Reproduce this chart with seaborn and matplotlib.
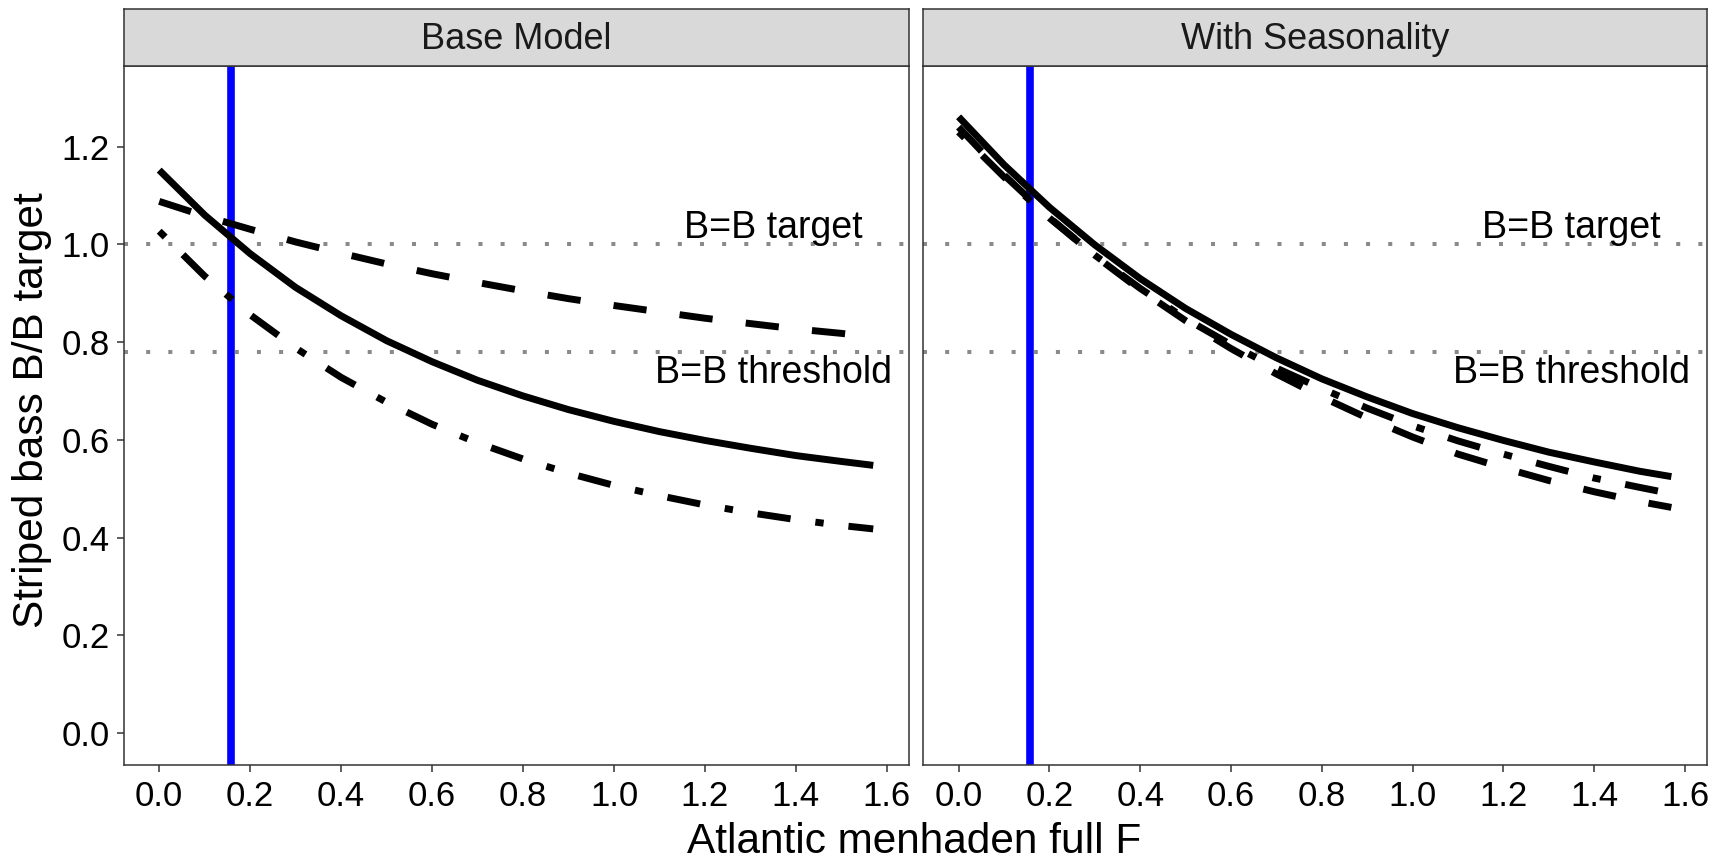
import numpy as np
import pandas as pd
import matplotlib
matplotlib.use("Agg")
import matplotlib.pyplot as plt
import seaborn as sns


# DATA
F_VALUES = [0.0, 0.1, 0.2, 0.3, 0.4, 0.5, 0.6, 0.7, 0.8,
            0.9, 1.0, 1.1, 1.2, 1.3, 1.4, 1.5, 1.57]

PANELS = ["Base Model", "With Seasonality"]
SCENARIOS = ["Scenario 1", "Scenario 2", "Scenario 3"]

BASE_S1 = [1.152, 1.060, 0.981, 0.912, 0.854, 0.803, 0.760, 0.722, 0.690,
           0.662, 0.638, 0.617, 0.599, 0.583, 0.568, 0.556, 0.548]
BASE_S2 = [1.088, 1.058, 1.031, 1.005, 0.982, 0.960, 0.940, 0.922, 0.905,
           0.889, 0.875, 0.862, 0.849, 0.838, 0.827, 0.818, 0.811]
BASE_S3 = [1.027, 0.935, 0.856, 0.788, 0.728, 0.677, 0.632, 0.594, 0.561,
           0.532, 0.507, 0.486, 0.467, 0.451, 0.437, 0.425, 0.418]

SEAS_S1 = [1.261, 1.163, 1.076, 0.999, 0.930, 0.869, 0.816, 0.768, 0.725,
           0.688, 0.654, 0.625, 0.599, 0.575, 0.555, 0.536, 0.525]
SEAS_S2 = [1.240, 1.142, 1.055, 0.977, 0.907, 0.844, 0.787, 0.735, 0.688,
           0.645, 0.606, 0.571, 0.543, 0.517, 0.494, 0.474, 0.462]
SEAS_S3 = [1.230, 1.138, 1.054, 0.978, 0.910, 0.848, 0.795, 0.747, 0.705,
           0.665, 0.629, 0.598, 0.571, 0.546, 0.522, 0.503, 0.490]

F_CURRENT = 0.158
B_TARGET = 1.0
B_THRESHOLD = 0.78

X_TICKS = [0.0, 0.2, 0.4, 0.6, 0.8, 1.0, 1.2, 1.4, 1.6]
Y_TICKS = [0.0, 0.2, 0.4, 0.6, 0.8, 1.0, 1.2]


# LONG TABLE
series = {
    ("Base Model", "Scenario 1"): BASE_S1,
    ("Base Model", "Scenario 2"): BASE_S2,
    ("Base Model", "Scenario 3"): BASE_S3,
    ("With Seasonality", "Scenario 1"): SEAS_S1,
    ("With Seasonality", "Scenario 2"): SEAS_S2,
    ("With Seasonality", "Scenario 3"): SEAS_S3,
}
rows = []
for (panel, scen), vals in series.items():
    for f, v in zip(F_VALUES, vals):
        rows.append({"panel": panel, "scenario": scen, "F": f, "ratio": v})
df = pd.DataFrame(rows)


# STYLE
sns.set_theme(style="white")
plt.rcParams['font.family'] = ['Liberation Sans', 'DejaVu Sans']

DASHES = {
    "Scenario 1": "",
    "Scenario 2": (4.8, 4.8),
    "Scenario 3": (1.2, 3.6, 4.8, 3.6),
}
FRAME = "#333333"


# FIGURE
fig = plt.figure(figsize=(17.3, 8.59), dpi=100)

bottom, height = 0.1094, 0.8138
lefts = [0.0714, 0.5335]
widths = [0.454, 0.4532]
strip_h = 0.9895 - (bottom + height)

for i, panel in enumerate(PANELS):
    ax = fig.add_axes([lefts[i], bottom, widths[i], height])

    ax.axvline(F_CURRENT, color="#0000FF", linewidth=5.5, zorder=1)
    for yref in [B_TARGET, B_THRESHOLD]:
        ax.axhline(yref, color="#8A8A8A", linewidth=2.9,
                   linestyle=(0, (1, 4.5)), zorder=2)

    sub = df[df["panel"] == panel]
    sns.lineplot(
        data=sub,
        x="F",
        y="ratio",
        style="scenario",
        style_order=SCENARIOS,
        dashes=DASHES,
        color="black",
        linewidth=5,
        errorbar=None,
        legend=False,
        ax=ax,
        zorder=3
    )
    for line in ax.get_lines()[-3:]:
        line.set_solid_capstyle("butt")
        line.set_dash_capstyle("butt")
        line.set_solid_joinstyle("round")

    ax.text(1.35, 1.013, "B=B target", ha="center", va="baseline",
            fontsize=27, color="black")
    ax.text(1.35, 0.716, "B=B threshold", ha="center", va="baseline",
            fontsize=27, color="black")

    ax.set_xlim(-0.0785, 1.6485)
    ax.set_ylim(-0.065, 1.365)
    ax.set_xticks(X_TICKS)
    ax.set_xticklabels([f"{t:.1f}" for t in X_TICKS])
    ax.set_yticks(Y_TICKS)
    ax.set_yticklabels([f"{t:.1f}" for t in Y_TICKS])
    ax.set_xlabel("")
    ax.set_ylabel("")
    ax.grid(False)

    for sp in ax.spines.values():
        sp.set_visible(True)
        sp.set_color(FRAME)
        sp.set_linewidth(1.1)

    ax.tick_params(axis="x", bottom=True, length=5, width=1.1, color=FRAME,
                   labelsize=25, labelcolor="black", pad=6)
    if i == 0:
        ax.tick_params(axis="y", left=True, length=5, width=1.1, color=FRAME,
                       labelsize=25, labelcolor="black", pad=5)
    else:
        ax.tick_params(axis="y", left=False, labelleft=False)

    # facet strip
    strip = fig.add_axes([lefts[i], bottom + height, widths[i], strip_h])
    strip.set_facecolor("#D9D9D9")
    strip.set_xticks([])
    strip.set_yticks([])
    for sp in strip.spines.values():
        sp.set_color(FRAME)
        sp.set_linewidth(1.1)
    strip.text(0.5, 0.47, panel, ha="center", va="center",
               fontsize=26, color="#1A1A1A", transform=strip.transAxes)


# AXIS TITLES
fig.text(0.5283, 0.007, "Atlantic menhaden full F", ha="center",
         va="baseline", fontsize=30.5, color="black")
fig.text(0.0247, 0.5227, "Striped bass B/B target", ha="center",
         va="baseline", rotation=90, rotation_mode="anchor",
         fontsize=30.5, color="black")

fig.savefig("out.png", dpi=100)
